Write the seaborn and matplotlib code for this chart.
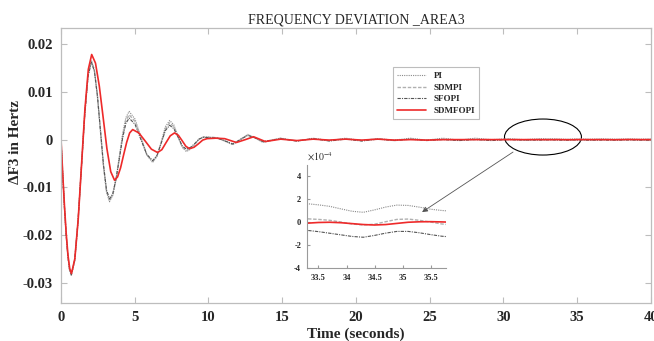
import matplotlib
matplotlib.use("Agg")
import matplotlib.pyplot as plt
from matplotlib.patches import Ellipse
import seaborn as sns

# ---------------- data ----------------
# first 14 s, the three grey controllers share sample times
t_black = [0, 0.117, 0.233, 0.35, 0.467, 0.583, 0.70,
           0.927, 1.153, 1.38, 1.607, 1.833, 2.06,
           2.265, 2.47, 2.675, 2.88, 3.085, 3.29,
           3.512, 3.733, 3.955, 4.177, 4.398, 4.62,
           5.02, 5.42, 5.82, 6.22,
           6.51, 6.80, 7.08, 7.37,
           7.65, 7.94, 8.22, 8.50,
           8.79, 9.08, 9.36, 9.65,
           10.1, 10.6, 11.15, 11.65, 12.15, 12.67, 13.2, 13.7]
pi_early = [0, -0.0074, -0.0142, -0.0201, -0.0246, -0.0274, -0.0284,
            -0.0254, -0.0172, -0.0059, 0.0054, 0.0136, 0.0166,
            0.0146, 0.0092, 0.0018, -0.0056, -0.0110, -0.0130,
            -0.0117, -0.0083, -0.0036, 0.0012, 0.0046, 0.0059,
            0.0043, 0.0006, -0.0032, -0.0048,
            -0.0035, -0.0004, 0.0027, 0.0040,
            0.0031, 0.0008, -0.0016, -0.0025,
            -0.0020, -0.0010, 0.0001, 0.0006,
            0.0005, 0.0004, -0.0004, -0.0011, 0.0000, 0.0011, 0.0003, -0.0006]
sdmpi_early = [0, -0.0073, -0.0142, -0.0200, -0.0245, -0.0273, -0.0283,
               -0.0253, -0.0171, -0.0060, 0.0052, 0.0134, 0.0164,
               0.0144, 0.0091, 0.0019, -0.0054, -0.0108, -0.0127,
               -0.0115, -0.0082, -0.0038, 0.0007, 0.0040, 0.0052,
               0.0038, 0.0003, -0.0032, -0.0046,
               -0.0034, -0.0006, 0.0023, 0.0035,
               0.0027, 0.0006, -0.0015, -0.0023,
               -0.0019, -0.0009, 0.0001, 0.0005,
               0.0005, 0.0004, -0.0003, -0.0010, 0.0000, 0.0010, 0.0003, -0.0005]
sfopi_early = [0, -0.0073, -0.0141, -0.0199, -0.0244, -0.0272, -0.0282,
               -0.0252, -0.0171, -0.0060, 0.0051, 0.0132, 0.0162,
               0.0143, 0.0091, 0.0019, -0.0053, -0.0105, -0.0124,
               -0.0113, -0.0082, -0.0040, 0.0003, 0.0034, 0.0045,
               0.0032, 0.0000, -0.0031, -0.0044,
               -0.0033, -0.0007, 0.0019, 0.0030,
               0.0023, 0.0005, -0.0013, -0.0020,
               -0.0016, -0.0008, 0.0001, 0.0005,
               0.0004, 0.0003, -0.0003, -0.0009, 0.0000, 0.0009, 0.0003, -0.0004]

t_red = [0, 0.118, 0.237, 0.355, 0.473, 0.592, 0.71,
         0.938, 1.167, 1.395, 1.623, 1.852, 2.08,
         2.338, 2.597, 2.855, 3.113, 3.372, 3.63,
         3.835, 4.04, 4.245, 4.45, 4.655, 4.86,
         5.28, 5.71, 6.13, 6.55,
         6.84, 7.13, 7.41, 7.70,
         7.96, 8.21, 8.47, 8.72,
         9.02, 9.31, 9.61, 9.9,
         10.5, 11.1, 11.5, 11.9, 12.5, 13.06, 13.86]
sdmfopi_early = [0, -0.0073, -0.0140, -0.0198, -0.0242, -0.0270, -0.0280,
                 -0.0249, -0.0166, -0.0051, 0.0064, 0.0147, 0.0178,
                 0.0160, 0.0112, 0.0047, -0.0019, -0.0067, -0.0085,
                 -0.0078, -0.0059, -0.0032, -0.0006, 0.0014, 0.0021,
                 0.0014, -0.0003, -0.0020, -0.0027,
                 -0.0021, -0.0006, 0.0008, 0.0014,
                 0.0009, -0.0002, -0.0014, -0.0019,
                 -0.0016, -0.0009, -0.0001, 0.0002,
                 0.0003, 0.0002, -0.0002, -0.0006, 0.0000, 0.0006, -0.0004]

# settling tail, shared by all four controllers
t_tail = [14.9, 16.0, 17.1, 18.2, 19.3, 20.4, 21.5, 22.6, 23.7, 24.8,
          25.9, 27.0, 28.1, 29.2, 30.3, 31.4, 32.5]
pi_tail = [0.0003, -0.0003, 0.0003, -0.0002, 0.0003, -0.0002, 0.0002, -0.0001, 0.0003,
           -0.0001, 0.0003, -0.0001, 0.0003, 0.0000, 0.0002, 0.0000, 0.0002]
sdmpi_tail = [0.0003, -0.0003, 0.0002, -0.0002, 0.0002, -0.0002, 0.0002, -0.0002, 0.0001,
              -0.0001, 0.0001, -0.0001, 0.0001, -0.0001, 0.0001, -0.0001, 0.0000]
sfopi_tail = [0.0002, -0.0003, 0.0002, -0.0003, 0.0001, -0.0003, 0.0001, -0.0002, 0.0001,
              -0.0002, 0.0000, -0.0002, 0.0000, -0.0002, 0.0000, -0.0001, -0.0001]
sdmfopi_tail = [0.0001, -0.0002, 0.0001, -0.0001, 0.0001, -0.0001, 0.0001, -0.0001, 0.0000,
                -0.0001, 0.0000, 0.0000, 0.0000, 0.0000, 0.0000, 0.0000, 0.0000]

# zoomed window (values in units of 1e-4 Hz)
t_zoom = [33.1, 33.3, 33.5, 33.7, 33.9, 34.1, 34.3, 34.5, 34.7, 34.9,
          35.1, 35.3, 35.5, 35.7, 35.9]
pi_zoom = [1.68, 1.62, 1.52, 1.39, 1.17, 0.96, 0.87, 1.08, 1.33, 1.50,
           1.47, 1.32, 1.14, 1.03, 0.95]
sdmpi_zoom = [0.35, 0.30, 0.25, 0.17, 0.02, -0.15, -0.24, -0.17, 0.05, 0.25,
              0.28, 0.17, 0.02, -0.15, -0.25]
sfopi_zoom = [-0.62, -0.71, -0.82, -0.96, -1.10, -1.24, -1.31, -1.15, -0.95, -0.80,
              -0.80, -0.92, -1.08, -1.22, -1.30]
sdmfopi_zoom = [-0.10, -0.08, -0.02, 0.00, -0.04, -0.12, -0.20, -0.24, -0.20, -0.10,
                0.00, 0.04, 0.05, 0.03, 0.00]

t_end = [36.7, 37.6, 38.5, 39.3, 40.0]
pi_end = [0.00016, 0.00010, 0.00015, 0.00010, 0.00014]
sdmpi_end = [0.00003, -0.00002, 0.00003, -0.00002, 0.00002]
sfopi_end = [-0.00010, -0.00013, -0.00008, -0.00012, -0.00010]
sdmfopi_end = [0.0, -0.00002, 0.00002, 0.0, 0.0]

labels = ["PI", "SDMPI", "SFOPI", "SDMFOPI"]
xticks = [0, 5, 10, 15, 20, 25, 30, 35, 40]
yticks = [-0.03, -0.02, -0.01, 0, 0.01, 0.02]
ytick_labels = ["-0.03", "-0.02", "-0.01", "0", "0.01", "0.02"]
inset_xticks = [33.5, 34, 34.5, 35, 35.5]
inset_xtick_labels = ["33.5", "34", "34.5", "35", "35.5"]
inset_yticks = [-4, -2, 0, 2, 4]

# ---------------- assemble ----------------
t_late = t_tail + t_zoom + t_end
series = {
    "PI": (t_black + t_late, pi_early + pi_tail + [v * 1e-4 for v in pi_zoom] + pi_end),
    "SDMPI": (t_black + t_late, sdmpi_early + sdmpi_tail + [v * 1e-4 for v in sdmpi_zoom] + sdmpi_end),
    "SFOPI": (t_black + t_late, sfopi_early + sfopi_tail + [v * 1e-4 for v in sfopi_zoom] + sfopi_end),
    "SDMFOPI": (t_red + t_late, sdmfopi_early + sdmfopi_tail + [v * 1e-4 for v in sdmfopi_zoom] + sdmfopi_end),
}
styles = {
    "PI": dict(color="#8a8a8a", linestyle=(0, (1, 1)), linewidth=0.8),
    "SDMPI": dict(color="#b0b0b0", linestyle=(0, (2.5, 1.2)), linewidth=1.0),
    "SFOPI": dict(color="#555555", linestyle=(0, (3, 1, 1, 1)), linewidth=0.8),
    "SDMFOPI": dict(color="#ee2a2a", linestyle="-", linewidth=1.2),
}

sns.set_style("ticks")
plt.rcParams["font.family"] = ["Liberation Serif", "DejaVu Serif"]
plt.rcParams["mathtext.fontset"] = "stix"

fig = plt.figure(figsize=(6.54, 3.41), dpi=100)
ax = fig.add_axes([0.0933, 0.111, 0.9017, 0.807])

for name in labels:
    t, v = series[name]
    sns.lineplot(x=t, y=v, ax=ax, label=name, estimator=None, **styles[name])

ax.set_xlim(0, 40)
ax.set_ylim(-0.0342, 0.02335)
ax.set_xticks(xticks)
ax.set_xticklabels([str(x) for x in xticks])
ax.set_yticks(yticks)
ax.set_yticklabels(ytick_labels)
for s in ax.spines.values():
    s.set_visible(True)
    s.set_color("#bdbdbd")
    s.set_linewidth(0.9)
ax.tick_params(direction="in", top=True, right=True, length=4, color="#bdbdbd",
               labelsize=10.5, pad=6)
for lab in ax.get_xticklabels() + ax.get_yticklabels():
    lab.set_fontweight("bold")

ax.set_title("FREQUENCY DEVIATION _AREA3", fontsize=10, pad=3)
ax.set_xlabel("Time (seconds)", fontsize=11, fontweight="bold", labelpad=2)
ax.set_ylabel("ΔF3 in Hertz", fontsize=11, fontweight="bold")
ax.yaxis.set_label_coords(-0.066, 0.585)

leg = ax.legend(loc="upper left", bbox_to_anchor=(0.555, 0.873),
                prop={"weight": "bold", "size": 6.5}, fancybox=False, framealpha=1,
                edgecolor="#bdbdbd", handlelength=3.2, borderpad=0.5, labelspacing=0.35)
leg.get_frame().set_linewidth(0.8)

# zoom marker and arrow
ax.add_patch(Ellipse((32.69, 0.00054), 5.22, 0.00753, fill=False, edgecolor="black", lw=0.8))
ax.annotate("", xy=(24.49, -0.01515), xytext=(30.66, -0.0026),
            arrowprops=dict(arrowstyle="-|>", color="#555555", lw=0.6,
                            mutation_scale=8, shrinkA=0, shrinkB=0))

# inset
ins = fig.add_axes([0.469, 0.214, 0.2125, 0.302])
for name in labels:
    t, v = series[name]
    sns.lineplot(x=t, y=[y * 1e4 for y in v], ax=ins, estimator=None, legend=False,
                 **styles[name])
ins.set_xlim(33.29, 35.77)
ins.set_ylim(-4, 5)
ins.set_xticks(inset_xticks)
ins.set_xticklabels(inset_xtick_labels)
ins.set_yticks(inset_yticks)
ins.set_yticklabels([str(y) for y in inset_yticks])
ins.spines["top"].set_visible(False)
ins.spines["right"].set_visible(False)
for s in ["left", "bottom"]:
    ins.spines[s].set_color("#9a9a9a")
    ins.spines[s].set_linewidth(0.8)
ins.tick_params(direction="in", length=2.5, color="#9a9a9a", labelsize=6, pad=4)
for lab in ins.get_xticklabels() + ins.get_yticklabels():
    lab.set_fontweight("bold")
ins.text(0.0, 1.02, r"$\times10^{-4}$", transform=ins.transAxes, fontsize=7,
         ha="left", va="bottom")
ins.patch.set_alpha(0)

fig.savefig("out.png", dpi=100)
